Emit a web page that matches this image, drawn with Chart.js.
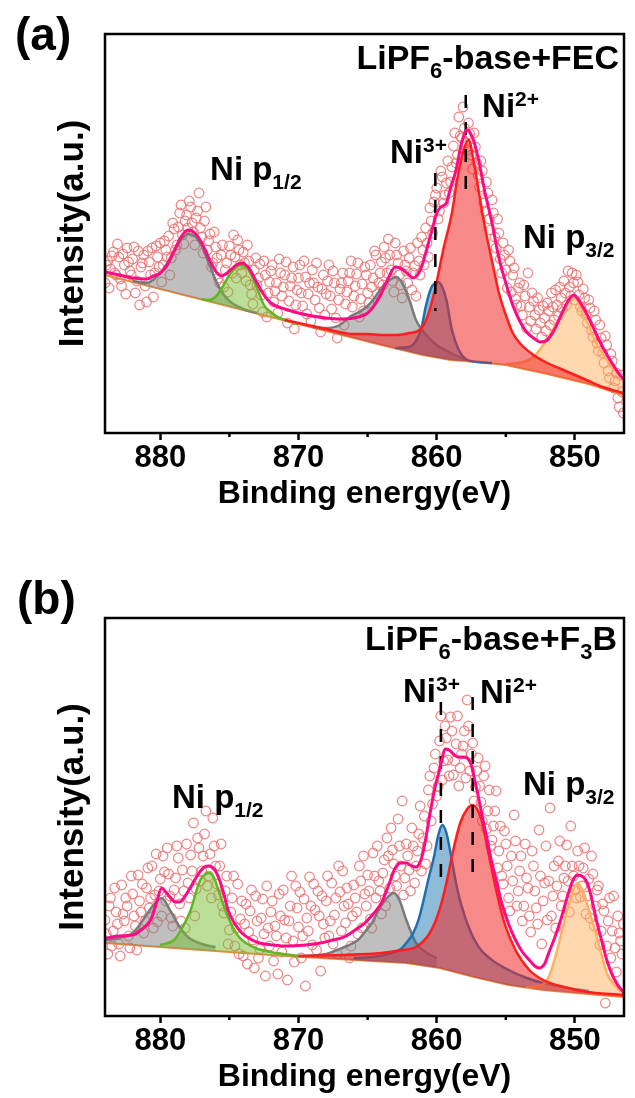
<!DOCTYPE html>
<html>
<head>
<meta charset="utf-8">
<title>Ni 2p XPS</title>
<script src="https://cdn.jsdelivr.net/npm/chart.js@4.4.0/dist/chart.umd.min.js"></script>
<style>
  html, body { margin: 0; padding: 0; background: #fff; }
  #wrap { position: relative; width: 635px; height: 1098px; }
  canvas { position: absolute; left: 0; }
</style>
</head>
<body>
<div id="wrap">
  <canvas id="chartA" width="635" height="560" style="top:0"></canvas>
  <canvas id="chartB" width="635" height="538" style="top:560px"></canvas>
</div>
<script>
const FAM = "'Liberation Sans', Arial, Helvetica, sans-serif";

// x axis (binding energy, eV)
const energyMin = 846.45, energyMax = 884;
const majorTicks = [880, 870, 860, 850];
const minorTicks = [875, 865, 855];

// ---- panel (a) LiPF6-base+FEC : [binding energy, intensity] ----
const baseA = [[884.5,160],[884,158],[880,144],[876,130],[872,116],[868,102],[864,88],[861,78],[859,73],[857,71],[855,68],[852,59],[849,49],[846.5,38],[846,36]];
const gray1A = [[882,152],[881,150],[880,160],[879.5,170],[879,182],[878.5,193],[878,199],[877.5,197],[877,187],[876.5,170],[876,153],[875.5,140],[875,132],[874,124],[873,120]];
const greenA = [[877,134],[876.5,133],[876,136],[875.5,146],[875,158],[874.5,166],[874.1,168],[873.6,163],[873,145],[872.5,128],[872,121],[871.5,116],[871,113],[870,109]];
const gray2A = [[869,106],[868,105],[867,108],[866.3,116],[865.5,122],[865,127],[864.5,135],[864,145],[863.5,152],[862.9,156],[862.5,150],[862,134],[861.5,113],[861,102],[860.5,94],[860,88],[859,80],[858,74]];
const blueA = [[863,85],[862,86],[861.5,92],[861.1,105],[860.8,126],[860.4,145],[859.9,151],[859.6,146],[859.3,133],[858.9,103],[858.4,83],[857.9,74],[857,71],[856,70]];
const redA = [[871,113],[868,104],[866,99],[865,99],[864,98],[863,98],[862,100],[861.25,103],[860.7,115],[860.1,145],[859.5,185],[858.9,220],[858.5,255],[858,285],[857.7,293],[857.3,270],[857,245],[856.5,205],[856,172],[855.5,140],[855,118],[854.5,100],[854,90],[853,78],[852,70],[851,64],[850,58],[849,52],[848,46],[846.5,40],[846,38]];
const orangeA = [[855,69],[854,70],[853,76],[852.4,86],[851.6,103],[850.9,120],[850.1,136],[849.2,113],[848.3,86],[847.3,66],[846.5,55],[846,52]];
const envA = [[884.5,162],[884,161],[883,158],[882,155],[881,154],[880.5,157],[880,160],[879.5,168],[879,182],[878.5,196],[878,203],[877.5,200],[877,190],[876.5,175],[876,162],[875.6,157],[875,162],[874.5,168],[874.1,170],[873.6,165],[873,150],[872.5,138],[872,130],[871,124],[870,120],[869,117],[868,115],[867,114],[866,115],[865,120],[864.5,128],[864,140],[863.5,155],[863,166],[862.5,164],[862,158],[861.7,155],[861.3,160],[861,170],[860.7,185],[860.3,205],[860,220],[859.7,226],[859.3,230],[859,245],[858.6,263],[858.2,290],[857.8,303],[857.4,295],[857,275],[856.5,240],[856,210],[855.5,175],[855,150],[854.5,128],[854,112],[853.5,101],[853,95],[852.5,91],[852,93],[851.5,103],[851,118],[850.5,132],[850.1,138],[849.6,130],[849,115],[848.5,100],[848,86],[847.5,74],[847,63],[846.5,54],[846,50]];
const ptsA = [[884,150],[883.8,172],[883.6,164],[883.4,181],[883.2,158],[883,176],[882.8,147],[882.6,168],[882.4,185],[882.2,162],
[882,174],[881.8,140],[881.6,182],[881.4,166],[881.2,178],[881,131],[880.8,171],[880.6,185],[880.4,160],[880.2,176],
[880,190],[879.8,168],[879.6,183],[879.4,197],[879.2,175],[879,204],[878.8,188],[878.6,220],[878.4,198],[878.2,212],
[878,205],[877.8,226],[877.6,201],[877.4,215],[877.2,240],[877,196],[876.8,212],[876.6,183],[876.4,199],[876.2,170],
[876,186],[875.8,155],[875.6,178],[875.4,146],[875.2,170],[875,187],[874.8,160],[874.6,176],[874.4,193],[874.2,168],
[874,181],[873.8,152],[873.6,172],[873.4,139],[873.2,163],[873,148],[872.8,169],[872.6,121],[872.4,158],[872.2,140],
[872,162],[871.8,131],[871.6,150],[871.4,174],[871.2,137],[871,158],[870.8,110],[870.6,147],[870.4,166],[870.2,128],
[870,155],[869.8,140],[869.6,172],[869.4,119],[869.2,150],[869,163],[868.8,133],[868.6,146],[868.4,101],[868.2,158],
[868,139],[867.8,168],[867.6,124],[867.4,150],[867.2,95],[867,144],[866.8,160],[866.6,129],[866.4,152],[866.2,172],
[866,137],[865.8,159],[865.6,116],[865.4,149],[865.2,166],[865,140],[864.8,168],[864.6,155],[864.4,178],[864.2,150],
[864,171],[863.8,186],[863.6,160],[863.4,178],[863.2,152],[863,190],[862.8,170],[862.6,148],[862.4,182],[862.2,162],
[862,175],[861.8,143],[861.6,167],[861.4,190],[861.2,158],[861,183],[860.8,205],[860.6,176],[860.4,212],[860.2,231],
[860,245],[859.8,222],[859.6,256],[859.4,238],[859.2,272],[859,251],[858.8,287],[858.6,270],[858.4,316],[858.2,295],
[858,305],[857.8,283],[857.6,299],[857.4,264],[857.2,286],[857,258],[856.8,272],[856.6,230],[856.4,251],[856.2,214],
[856,233],[855.8,196],[855.6,214],[855.4,174],[855.2,190],[855,163],[854.8,183],[854.6,141],[854.4,165],[854.2,128],
[854,150],[853.8,118],[853.6,137],[853.4,160],[853.2,112],[853,132],[852.8,104],[852.6,123],[852.4,96],[852.2,115],
[852,130],[851.8,108],[851.6,126],[851.4,143],[851.2,117],[851,135],[850.8,152],[850.6,128],[850.4,146],[850.2,160],
[850,133],[849.8,151],[849.6,126],[849.4,144],[849.2,118],[849,133],[848.8,103],[848.6,122],[848.4,90],[848.2,108],
[848,80],[847.8,97],[847.6,62],[847.4,79],[847.2,45],[847,60],[846.8,26],[846.6,41]];
const ptsA2 = [[883.9,168],[883.7,145],[883.5,177],[883.3,160],[883.1,189],[882.9,154],[882.7,179],[882.5,139],[882.3,171],[882.1,158],
[881.9,186],[881.7,152],[881.5,128],[881.3,170],[881.1,147],[880.9,182],[880.7,158],[880.5,136],[880.3,187],[880.1,166],
[879.9,151],[879.7,192],[879.5,176],[879.3,158],[879.1,210],[878.9,183],[878.7,206],[878.5,228],[878.3,189],[878.1,218],
[877.9,232],[877.7,210],[877.5,188],[877.3,222],[877.1,205],[876.9,180],[876.7,226],[876.5,192],[876.3,166],[876.1,201],
[875.9,175],[875.7,150],[875.5,188],[875.3,163],[875.1,141],[874.9,178],[874.7,198],[874.5,155],[874.3,183],[874.1,160],
[873.9,170],[873.7,188],[873.5,148],[873.3,129],[873.1,175],[872.9,155],[872.7,138],[872.5,172],[872.3,116],[872.1,151],
[871.9,168],[871.7,142],[871.5,120],[871.3,160],[871.1,146],[870.9,171],[870.7,132],[870.5,155],[870.3,104],[870.1,143],
[869.9,168],[869.7,127],[869.5,156],[869.3,139],[869.1,112],[868.9,150],[868.7,170],[868.5,125],[868.3,144],[868.1,118],
[867.9,152],[867.7,137],[867.5,162],[867.3,115],[867.1,133],[866.9,150],[866.7,108],[866.5,141],[866.3,160],[866.1,126],
[865.9,147],[865.7,170],[865.5,134],[865.3,122],[865.1,158],[864.9,130],[864.7,146],[864.5,182],[864.3,139],[864.1,160],
[863.9,148],[863.7,175],[863.5,194],[863.3,163],[863.1,141],[862.9,178],[862.7,158],[862.5,135],[862.3,168],[862.1,150],
[861.9,185],[861.7,160],[861.5,137],[861.3,172],[861.1,196],[860.9,168],[860.7,190],[860.5,225],[860.3,200],[860.1,238],
[859.9,214],[859.7,262],[859.5,230],[859.3,250],[859.1,240],[858.9,266],[858.7,300],[858.5,278],[858.3,297],[858.1,326],
[857.9,290],[857.7,310],[857.5,278],[857.3,300],[857.1,270],[856.9,246],[856.7,262],[856.5,222],[856.3,240],[856.1,203],
[855.9,220],[855.7,185],[855.5,200],[855.3,160],[855.1,178],[854.9,145],[854.7,172],[854.5,158],[854.3,134],[854.1,145],
[853.9,127],[853.7,148],[853.5,105],[853.3,126],[853.1,140],[852.9,118],[852.7,135],[852.5,110],[852.3,127],[852.1,102],
[851.9,122],[851.7,140],[851.5,113],[851.3,128],[851.1,146],[850.9,124],[850.7,140],[850.5,162],[850.3,137],[850.1,150],
[849.9,158],[849.7,138],[849.5,122],[849.3,135],[849.1,110],[848.9,125],[848.7,96],[848.5,113],[848.3,82],[848.1,95],
[847.9,70],[847.7,88],[847.5,55],[847.3,72],[847.1,52],[846.9,35],[846.7,58],[846.5,20]];
const ni3LineA = [[860.1,260],[860.1,122]];
const ni2LineA = [[857.9,338],[857.9,231]];

// ---- panel (b) LiPF6-base+F3B ----
const baseB = [[884.5,74],[884,73],[880,69],[876,65],[872,61],[869.6,59],[866,56],[862.2,53],[859.8,48],[857.3,39],[854.8,31],[852.3,26],[849.9,23],[846.5,19],[846,18.5]];
const gray1B = [[884,76],[883,78],[882,83],[881,101],[880.5,111],[879.9,118],[879.3,106],[878.6,89],[878,79],[877,72],[876,69]];
const greenB = [[880,71],[879,76],[878.5,86],[877.8,106],[877.2,133],[876.9,140],[876.5,143],[876.1,138],[875.8,126],[875.1,99],[874.3,79],[873.1,68],[872,64],[870,60]];
const gray2B = [[870,60],[868,62],[867.2,66],[866.5,70],[865.7,76],[865.2,84],[864.7,93],[864.2,106],[863.6,118],[863.1,123],[862.7,116],[862.2,96],[861.8,82],[861.5,73],[860.7,63],[860,58]];
const blueB = [[866,58],[864.7,59],[863.5,62],[862.7,66],[862.2,73],[861.7,83],[861.3,97],[861,113],[860.6,137],[860.2,159],[859.9,180],[859.6,191],[859.3,183],[859,163],[858.5,126],[857.8,93],[857.3,77],[856.8,66],[855.8,54],[854.8,46],[853.5,38],[852.3,33],[850.5,28],[849,25]];
const redB = [[870,60],[867,61],[864,63],[862.5,66],[861.5,69],[860.5,83],[859.8,106],[859.3,133],[858.8,166],[858.3,193],[857.8,207],[857.4,211],[857,205],[856.7,193],[856.2,159],[855.7,126],[855.1,93],[854.3,66],[853.3,46],[852.3,36],[850.5,28],[848.5,23],[846.5,21],[846,20]];
const orangeB = [[853.5,29],[852.6,30],[851.9,39],[851.5,55],[851.1,76],[850.5,109],[850.1,127],[849.8,133],[849.4,124],[849,106],[848.6,88],[848.3,73],[847.7,43],[847,29],[846.5,23],[846,21]];
const envB = [[884.5,78],[884,78],[883,80],[882,81],[881.4,86],[880.7,96],[880.3,112],[879.9,128],[879.6,124],[879.3,119],[878.9,114],[878.6,114],[878.2,120],[877.8,129],[877.3,141],[876.8,149],[876.5,150],[876.1,147],[875.8,139],[875.4,122],[875.1,106],[874.6,92],[874.1,83],[873.5,77],[872.8,73],[871.8,71],[870.9,70],[869.5,71],[868.4,73],[867.5,76],[866.7,79],[865.9,86],[865.2,93],[864.6,102],[864,113],[863.5,130],[863,148],[862.6,153],[862.2,153],[861.8,150],[861.5,149],[861.2,154],[861,163],[860.7,185],[860.4,209],[860.1,230],[859.8,246],[859.6,258],[859.4,267],[859.1,266],[858.8,262],[858.5,259],[858.1,259],[857.8,258],[857.5,251],[857.3,239],[857,220],[856.7,199],[856.4,180],[856.1,159],[855.7,136],[855.3,113],[854.8,92],[854.3,76],[853.8,64],[853.3,56],[852.9,50],[852.6,48],[852.2,52],[851.9,63],[851.5,77],[851.1,93],[850.7,112],[850.4,126],[850.1,137],[849.8,141],[849.4,139],[849.1,133],[848.8,118],[848.4,93],[848,72],[847.7,56],[847.2,38],[846.5,24],[846,20]];
const ptsB = [[884,96],[883.8,62],[883.6,118],[883.4,85],[883.2,104],[883,72],[882.8,131],[882.6,95],[882.4,110],[882.2,68],
[882,122],[881.8,90],[881.6,141],[881.4,104],[881.2,83],[881,128],[880.8,108],[880.6,150],[880.4,121],[880.2,94],
[880,137],[879.8,160],[879.6,115],[879.4,142],[879.2,98],[879,126],[878.8,170],[878.6,112],[878.4,146],[878.2,88],
[878,133],[877.8,161],[877.6,193],[877.4,127],[877.2,168],[877,145],[876.8,182],[876.6,130],[876.4,162],[876.2,198],
[876,150],[875.8,121],[875.6,172],[875.4,103],[875.2,140],[875,86],[874.8,118],[874.6,70],[874.4,132],[874.2,97],
[874,60],[873.8,112],[873.6,84],[873.4,126],[873.2,48],[873,95],[872.8,67],[872.6,117],[872.4,40],[872.2,88],
[872,104],[871.8,55],[871.6,80],[871.4,122],[871.2,64],[871,96],[870.8,36],[870.6,110],[870.4,75],[870.2,130],
[870,89],[869.8,58],[869.6,117],[869.4,98],[869.2,139],[869,71],[868.8,106],[868.6,125],[868.4,45],[868.2,92],
[868,115],[867.8,80],[867.6,133],[867.4,101],[867.2,62],[867,124],[866.8,145],[866.6,93],[866.4,112],[866.2,70],
[866,131],[865.8,104],[865.6,150],[865.4,88],[865.2,122],[865,141],[864.8,97],[864.6,163],[864.4,118],[864.2,135],
[864,102],[863.8,156],[863.6,178],[863.4,128],[863.2,166],[863,140],[862.8,197],[862.6,150],[862.4,121],[862.2,172],
[862,146],[861.8,188],[861.6,133],[861.4,165],[861.2,210],[861,178],[860.8,152],[860.6,226],[860.4,195],[860.2,248],
[860,220],[859.8,275],[859.6,236],[859.4,290],[859.2,256],[859,299],[858.8,241],[858.6,272],[858.4,230],[858.2,262],
[858,285],[857.8,316],[857.6,245],[857.4,273],[857.2,229],[857,258],[856.8,214],[856.6,240],[856.4,187],[856.2,226],
[856,176],[855.8,205],[855.6,148],[855.4,190],[855.2,132],[855,172],[854.8,118],[854.6,160],[854.4,201],[854.2,110],
[854,145],[853.8,95],[853.6,172],[853.4,128],[853.2,84],[853,150],[852.8,108],[852.6,186],[852.4,72],[852.2,133],
[852,96],[851.8,208],[851.6,120],[851.4,88],[851.2,155],[851,110],[850.8,138],[850.6,171],[850.4,104],[850.2,150],
[850,126],[849.8,165],[849.6,119],[849.4,148],[849.2,102],[849,137],[848.8,160],[848.6,90],[848.4,126],[848.2,71],
[848,112],[847.8,13],[847.6,95],[847.4,58],[847.2,120],[847,44],[846.8,83],[846.6,62]];
const ptsB2 = [[883.9,82],[883.7,110],[883.5,70],[883.3,128],[883.1,92],[882.9,60],[882.7,102],[882.5,118],[882.3,80],[882.1,140],
[881.9,100],[881.7,66],[881.5,115],[881.3,132],[881.1,95],[880.9,148],[880.7,118],[880.5,88],[880.3,162],[880.1,125],
[879.9,100],[879.7,144],[879.5,168],[879.3,120],[879.1,90],[878.9,138],[878.7,158],[878.5,95],[878.3,125],[878.1,172],
[877.9,118],[877.7,145],[877.5,100],[877.3,178],[877.1,135],[876.9,160],[876.7,205],[876.5,140],[876.3,118],[876.1,170],
[875.9,132],[875.7,150],[875.5,110],[875.3,125],[875.1,72],[874.9,104],[874.7,140],[874.5,88],[874.3,62],[874.1,115],
[873.9,92],[873.7,52],[873.5,105],[873.3,76],[873.1,120],[872.9,58],[872.7,98],[872.5,82],[872.3,130],[872.1,70],
[871.9,115],[871.7,90],[871.5,42],[871.3,100],[871.1,126],[870.9,78],[870.7,95],[870.5,140],[870.3,54],[870.1,108],
[869.9,124],[869.7,80],[869.5,30],[869.3,85],[869.1,110],[868.9,132],[868.7,66],[868.5,100],[868.3,120],[868.1,78],
[867.9,140],[867.7,95],[867.5,72],[867.3,118],[867.1,150],[866.9,85],[866.7,110],[866.5,128],[866.3,58],[866.1,100],
[865.9,118],[865.7,82],[865.5,135],[865.3,160],[865.1,110],[864.9,125],[864.7,88],[864.5,140],[864.3,170],[864.1,125],
[863.9,143],[863.7,110],[863.5,160],[863.3,188],[863.1,152],[862.9,130],[862.7,170],[862.5,215],[862.3,138],[862.1,160],
[861.9,125],[861.7,170],[861.5,150],[861.3,182],[861.1,145],[860.9,200],[860.7,170],[860.5,240],[860.3,212],[860.1,262],
[859.9,230],[859.7,300],[859.5,255],[859.3,278],[859.1,240],[858.9,285],[858.7,255],[858.5,300],[858.3,248],[858.1,270],
[857.9,238],[857.7,290],[857.5,262],[857.3,215],[857.1,245],[856.9,230],[856.7,195],[856.5,250],[856.3,205],[856.1,170],
[855.9,190],[855.7,225],[855.5,165],[855.3,140],[855.1,185],[854.9,150],[854.7,105],[854.5,135],[854.3,175],[854.1,125],
[853.9,160],[853.7,110],[853.5,138],[853.3,100],[853.1,165],[852.9,125],[852.7,92],[852.5,140],[852.3,115],[852.1,170],
[851.9,135],[851.7,100],[851.5,150],[851.3,130],[851.1,175],[850.9,120],[850.7,150],[850.5,135],[850.3,190],[850.1,140],
[849.9,118],[849.7,150],[849.5,130],[849.3,168],[849.1,120],[848.9,98],[848.7,142],[848.5,110],[848.3,130],[848.1,85],
[847.9,105],[847.7,70],[847.5,118],[847.3,85],[847.1,68],[846.9,100],[846.7,75],[846.5,92]];
const ni3LineB = [[859.7,314],[859.7,133]];
const ni2LineB = [[857.4,319],[857.4,136]];

// text labels, placed in data coordinates (left/right edge, baseline)
const notesA = [
  {x: 846.81, y: 364, size: 34, align: 'right', parts: [['LiPF', 0], ['6', -1], ['-base+FEC', 0]]},
  {x: 856.72, y: 316, size: 33, parts: [['Ni', 0], ['2+', 1]]},
  {x: 863.38, y: 270, size: 33, parts: [['Ni', 0], ['3+', 1]]},
  {x: 876.4, y: 253, size: 33, parts: [['Ni p', 0], ['1/2', -1]]},
  {x: 853.76, y: 185, size: 33, parts: [['Ni p', 0], ['3/2', -1]]}
];
const notesB = [
  {x: 846.95, y: 366, size: 34, align: 'right', parts: [['LiPF', 0], ['6', -1], ['-base+F', 0], ['3', -1], ['B', 0]]},
  {x: 862.44, y: 314, size: 33, parts: [['Ni', 0], ['3+', 1]]},
  {x: 856.87, y: 313, size: 33, parts: [['Ni', 0], ['2+', 1]]},
  {x: 879.15, y: 208, size: 33, parts: [['Ni p', 0], ['1/2', -1]]},
  {x: 853.76, y: 221, size: 33, parts: [['Ni p', 0], ['3/2', -1]]}
];

function pts(arr) {
  return arr.map(p => ({x: p[0], y: p[1]}));
}

function drawRich(ctx, x, y, parts, size, align) {
  const fontOf = (lvl) => 'bold ' + (lvl === 0 ? size : Math.round(size * 0.64)) + 'px ' + FAM;
  let w = 0;
  parts.forEach(p => { ctx.font = fontOf(p[1]); w += ctx.measureText(p[0]).width; });
  let cx = align === 'right' ? x - w : x;
  parts.forEach(p => {
    ctx.font = fontOf(p[1]);
    const dy = p[1] === 1 ? -size * 0.32 : (p[1] === -1 ? size * 0.26 : 0);
    ctx.fillText(p[0], cx, y + dy);
    cx += ctx.measureText(p[0]).width;
  });
}

const decor = {
  id: 'decor',
  afterDatasetsDraw(chart, args, opts) {
    const {ctx, chartArea: a, scales: {x, y}} = chart;
    ctx.save();
    ctx.strokeStyle = '#000';
    ctx.lineWidth = 2.5;
    // minor ticks
    minorTicks.forEach(v => {
      const px = x.getPixelForValue(v);
      ctx.beginPath();
      ctx.moveTo(px, a.bottom);
      ctx.lineTo(px, a.bottom + 4);
      ctx.stroke();
    });
    // frame
    ctx.strokeRect(a.left, a.top, a.right - a.left, a.bottom - a.top);
    // labels
    ctx.fillStyle = '#000';
    ctx.textAlign = 'left';
    ctx.textBaseline = 'alphabetic';
    opts.notes.forEach(n => drawRich(ctx, x.getPixelForValue(n.x), y.getPixelForValue(n.y), n.parts, n.size, n.align));
    ctx.font = 'bold 46px ' + FAM;
    ctx.fillText(opts.letter, opts.lx, opts.ly);
    ctx.restore();
  }
};

function comp(arr, line, fill) {
  return {data: pts(arr), borderColor: line, backgroundColor: fill, borderWidth: 2.5,
          pointRadius: 0, fill: 9, cubicInterpolationMode: 'monotone'};
}

function makePanel(id, d, yMax, padTop, padBottom, notes, letter, lx, ly) {
  const dash = (arr) => ({data: pts(arr), borderColor: '#000', borderWidth: 2.5, borderDash: [13, 14],
                          pointRadius: 0, fill: false});
  return new Chart(document.getElementById(id), {
    type: 'line',
    data: {
      datasets: [
        {data: pts(d.env), borderColor: '#ff0a84', borderWidth: 3, pointRadius: 0, fill: false, cubicInterpolationMode: 'monotone'},
        dash(d.ni3),
        dash(d.ni2),
        comp(d.red, '#ff1e1e', 'rgba(240,40,40,0.55)'),
        comp(d.orange, '#ffb060', 'rgba(255,178,96,0.5)'),
        comp(d.blue, '#1f6fae', 'rgba(31,119,180,0.5)'),
        comp(d.gray2, '#7a7a7a', 'rgba(128,128,128,0.5)'),
        comp(d.green, '#62b523', 'rgba(120,192,50,0.5)'),
        comp(d.gray1, '#7a7a7a', 'rgba(128,128,128,0.5)'),
        {data: pts(d.base), borderColor: '#e88a3c', borderWidth: 2, pointRadius: 0, fill: false},
        {data: pts(d.pts.concat(d.pts2)), showLine: false, pointRadius: 4.8, pointBorderWidth: 1.2,
         pointBorderColor: 'rgba(236,112,112,0.85)', pointBackgroundColor: 'rgba(0,0,0,0)',
         borderColor: 'rgba(236,112,112,0.85)', backgroundColor: 'rgba(0,0,0,0)', fill: false}
      ]
    },
    options: {
      responsive: false,
      animation: false,
      devicePixelRatio: 1,
      events: [],
      layout: {padding: {left: 0, right: 11, top: padTop, bottom: padBottom}},
      plugins: {
        legend: {display: false},
        tooltip: {enabled: false},
        decor: {notes: notes, letter: letter, lx: lx, ly: ly}
      },
      scales: {
        x: {
          type: 'linear', reverse: true, min: energyMin, max: energyMax,
          afterBuildTicks: s => { s.ticks = majorTicks.map(v => ({value: v})); },
          afterFit: s => { s.height = 82; },
          grid: {display: true, drawOnChartArea: false, drawTicks: true, tickLength: 7, tickWidth: 2.5, tickColor: '#000'},
          border: {display: false},
          ticks: {color: '#000', padding: 0, maxRotation: 0, font: {family: FAM, size: 31, weight: 'bold'}},
          title: {display: true, text: 'Binding energy(eV)', color: '#000', padding: {top: 0, bottom: 2},
                  font: {family: FAM, size: 32, weight: 'bold'}}
        },
        y: {
          min: 0, max: yMax,
          afterFit: s => { s.width = 105; },
          grid: {display: false},
          border: {display: false},
          ticks: {display: false},
          title: {display: true, text: 'Intensity(a.u.)', color: '#000', padding: {top: 52, bottom: 0},
                  font: {family: FAM, size: 35, weight: 'bold'}}
        }
      }
    },
    plugins: [decor]
  });
}

makePanel('chartA', {env: envA, ni3: ni3LineA, ni2: ni2LineA, red: redA, orange: orangeA, blue: blueA,
  gray2: gray2A, green: greenA, gray1: gray1A, base: baseA, pts: ptsA, pts2: ptsA2}, 399, 34, 45, notesA, '(a)', 15, 50);
makePanel('chartB', {env: envB, ni3: ni3LineB, ni2: ni2LineB, red: redB, orange: orangeB, blue: blueB,
  gray2: gray2B, green: greenB, gray1: gray1B, base: baseB, pts: ptsB, pts2: ptsB2}, 398, 58, 0, notesB, '(b)', 17, 54);
</script>
</body>
</html>
